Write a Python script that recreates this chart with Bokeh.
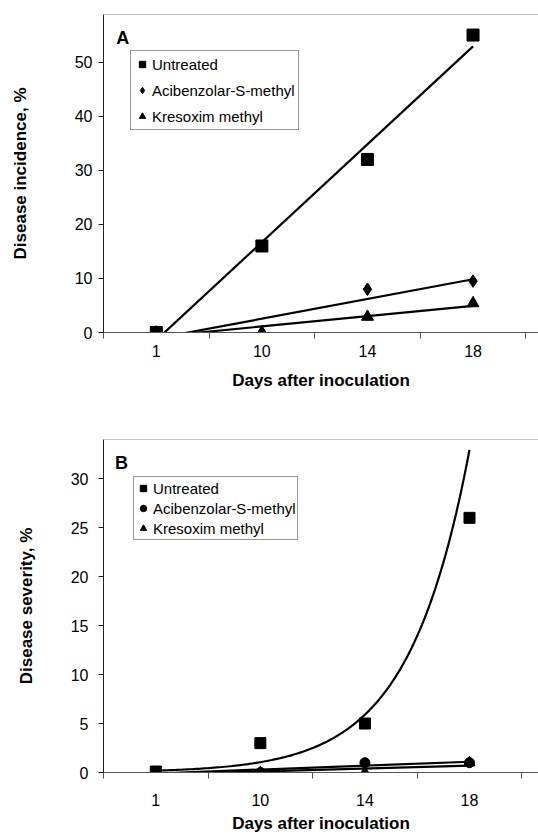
import numpy as np
from bokeh.plotting import figure
from bokeh.layouts import column
from bokeh.models import Range1d, FixedTicker, Span, Legend, LegendItem, Label
from bokeh.embed import file_html
from bokeh.resources import INLINE

# ---- data ----
days = ["1", "10", "14", "18"]
series_names = ["Untreated", "Acibenzolar-S-methyl", "Kresoxim methyl"]

a_untreated = [0, 16, 32, 55]
a_acibenzolar = [0, 0, 8, 9.5]
a_kresoxim = [0, 0, 2.9, 5.4]

b_untreated = [0.1, 3, 5, 26]
b_acibenzolar = [0, 0, 1, 1]
b_kresoxim = [0, 0, 0, 1]

a_ticks = [0, 10, 20, 30, 40, 50]
b_ticks = [0, 5, 10, 15, 20, 25, 30]

FONT = "Liberation Sans"
xpos = np.arange(1, len(days) + 1)


def style(p, yticks, ytitle, xstand, xtitle_stand, ystand, ytitle_stand):
    p.xgrid.visible = False
    p.ygrid.visible = False
    p.outline_line_color = None
    p.background_fill_color = "white"
    p.border_fill_color = "white"
    xa = p.xaxis[0]
    xa.ticker = FixedTicker(ticks=list(xpos), minor_ticks=[v - 0.5 for v in xpos] + [xpos[-1] + 0.5])
    xa.major_label_overrides = {int(i): d for i, d in zip(xpos, days)}
    xa.major_tick_out = 0
    xa.major_tick_in = 0
    xa.minor_tick_out = 6
    xa.minor_tick_in = 0
    xa.axis_line_color = "#555555"
    xa.minor_tick_line_color = "#555555"
    xa.major_label_text_font = FONT
    xa.major_label_text_font_size = "16px"
    xa.major_label_text_color = "black"
    xa.major_label_standoff = xstand
    xa.axis_label = "Days after inoculation"
    xa.axis_label_text_font = FONT
    xa.axis_label_text_font_style = "bold"
    xa.axis_label_text_font_size = "17px"
    xa.axis_label_text_color = "black"
    xa.axis_label_standoff = xtitle_stand

    ya = p.yaxis[0]
    ya.ticker = FixedTicker(ticks=yticks, minor_ticks=[])
    ya.major_tick_out = 5
    ya.major_tick_in = 0
    ya.minor_tick_out = 0
    ya.minor_tick_in = 0
    ya.axis_line_color = "#222222"
    ya.major_tick_line_color = "#222222"
    ya.major_label_text_font = FONT
    ya.major_label_text_font_size = "16px"
    ya.major_label_text_color = "black"
    ya.major_label_standoff = ystand
    ya.axis_label = ytitle
    ya.axis_label_text_font = FONT
    ya.axis_label_text_font_style = "bold"
    ya.axis_label_text_font_size = "17px"
    ya.axis_label_text_color = "black"
    ya.axis_label_standoff = ytitle_stand


def linfit(y):
    m, c = np.polyfit(xpos, np.asarray(y, dtype=float), 1)
    xs = np.array([xpos[0], xpos[-1]], dtype=float)
    return xs, m * xs + c


def expfit(y):
    m, c = np.polyfit(xpos, np.log(np.asarray(y, dtype=float)), 1)
    xs = np.linspace(xpos[0], xpos[-1], 120)
    return xs, np.exp(c + m * xs)


# ---------------- Panel A ----------------
pa = figure(width=538, height=408, output_backend="svg", toolbar_location=None,
            x_range=Range1d(0.5, 4.62), y_range=Range1d(0, 58.8),
            min_border_left=100, min_border_right=0, min_border_top=14, min_border_bottom=76)
style(pa, a_ticks, "Disease incidence, %", 6, 11, 6, 42)
pa.add_layout(Span(location=58.8, dimension="width", line_color="#888888", line_width=1))

for ys in (a_untreated, a_acibenzolar, a_kresoxim):
    xs, yl = linfit(ys)
    pa.line(xs, yl, line_color="black", line_width=2.2)

ra1 = pa.scatter(xpos, a_untreated, marker="square", size=12, color="black")
ra2 = pa.scatter(xpos, a_acibenzolar, marker="diamond", size=12.5, color="black")
ra3 = pa.scatter(xpos, a_kresoxim, marker="triangle", size=12, color="black")

leg_a = Legend(items=[LegendItem(label=series_names[0], renderers=[ra1]),
                      LegendItem(label=series_names[1], renderers=[ra2]),
                      LegendItem(label=series_names[2], renderers=[ra3])],
               location=(27, 202), padding=3, spacing=6, margin=0,
               glyph_width=16, glyph_height=18, label_height=20, label_standoff=2,
               label_text_font=FONT, label_text_font_size="15px", label_text_color="black",
               border_line_color="#333333", border_line_width=1,
               background_fill_color="white", background_fill_alpha=1.0)
pa.add_layout(leg_a)
pa.add_layout(Label(x=0.62, y=52.6, text="A", text_font=FONT, text_font_style="bold",
                    text_font_size="18px", text_color="black"))

# ---------------- Panel B ----------------
pb = figure(width=538, height=427, output_backend="svg", toolbar_location=None,
            x_range=Range1d(0.5, 4.66), y_range=Range1d(0, 34.0),
            min_border_left=103, min_border_right=0, min_border_top=31, min_border_bottom=62)
style(pb, b_ticks, "Disease severity, %", 15, 5, 10, 32)
pb.add_layout(Span(location=34.0, dimension="width", line_color="#888888", line_width=1))

xs, ye = expfit(b_untreated)
pb.line(xs, ye, line_color="black", line_width=2.2)
for ys in (b_acibenzolar, b_kresoxim):
    xs, yl = linfit(ys)
    pb.line(xs, yl, line_color="black", line_width=2.2)

rb1 = pb.scatter(xpos, b_untreated, marker="square", size=11, color="black")
rb2 = pb.scatter(xpos, b_acibenzolar, marker="circle", size=10, color="black")
rb3 = pb.scatter(xpos, b_kresoxim, marker="triangle", size=11, color="black")

leg_b = Legend(items=[LegendItem(label=series_names[0], renderers=[rb1]),
                      LegendItem(label=series_names[1], renderers=[rb2]),
                      LegendItem(label=series_names[2], renderers=[rb3])],
               location=(30, 232), padding=1, spacing=0, margin=0,
               glyph_width=16, glyph_height=18, label_height=20, label_standoff=2,
               label_text_font=FONT, label_text_font_size="15px", label_text_color="black",
               border_line_color="#333333", border_line_width=1,
               background_fill_color="white", background_fill_alpha=1.0)
pb.add_layout(leg_b)
pb.add_layout(Label(x=0.61, y=30.6, text="B", text_font=FONT, text_font_style="bold",
                    text_font_size="18px", text_color="black"))

layout = column(pa, pb, spacing=0)
open("out.html", "w").write(file_html(layout, INLINE))
